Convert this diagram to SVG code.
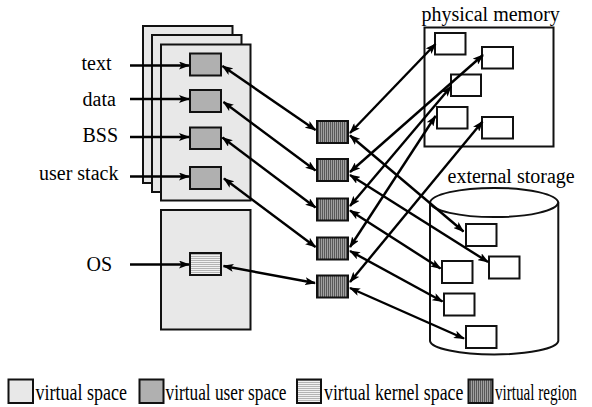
<svg xmlns="http://www.w3.org/2000/svg" width="592" height="407" viewBox="0 0 592 407">
  <style>
    .lbl { font-family: "Liberation Serif", "Times New Roman", serif; font-size: 20px; fill: #000; }
    .leg { font-family: "Liberation Serif", "Times New Roman", serif; font-size: 23.5px; fill: #000; }
    .page { fill: #e8e8e8; stroke: #111; stroke-width: 2; }
    .user { fill: #b0b0b0; stroke: #111; stroke-width: 2; }
    .kern { fill: url(#hstripes); stroke: #111; stroke-width: 2; }
    .vreg { fill: url(#vstripes); stroke: #111; stroke-width: 2; }
    .frame { fill: #fff; stroke: #111; stroke-width: 2; }
    .cont { fill: #fff; stroke: #111; stroke-width: 2; }
    .link { fill: none; stroke: #000; stroke-width: 2.4; marker-end: url(#tip); }
    .both { marker-start: url(#tip); }
  </style>
  <defs>
    <marker id="tip" markerUnits="userSpaceOnUse" markerWidth="11" markerHeight="8" refX="10" refY="4" orient="auto-start-reverse">
      <path d="M0,0 L11,4 L0,8 L2.5,4 z" fill="#000"/>
    </marker>
    <pattern id="vstripes" patternUnits="userSpaceOnUse" width="2" height="2">
      <rect width="2" height="2" fill="#a0a0a0"/>
      <rect width="1" height="2" fill="#585858"/>
    </pattern>
    <pattern id="hstripes" patternUnits="userSpaceOnUse" width="2" height="2">
      <rect width="2" height="2" fill="#f2f2f2"/>
      <rect width="2" height="1" fill="#b4b4b4"/>
    </pattern>
  </defs>

  <!-- process address spaces (stacked pages) -->
  <g id="space-back"><rect class="page" x="143" y="26" width="89.5" height="157"/></g>
  <g id="space-middle"><rect class="page" x="152" y="35" width="89.5" height="157"/></g>
  <g id="space-front"><rect class="page" x="161" y="44.5" width="89.5" height="156"/></g>
  <g id="space-os"><rect class="page" x="161" y="210" width="89.5" height="119.5"/></g>

  <!-- user space segments -->
  <g id="seg-text"><rect class="user" x="190" y="53.5" width="31" height="22"/></g>
  <g id="seg-data"><rect class="user" x="190" y="90" width="31" height="22"/></g>
  <g id="seg-bss"><rect class="user" x="190" y="127.5" width="31" height="21.5"/></g>
  <g id="seg-stack"><rect class="user" x="190" y="167" width="31" height="22"/></g>
  <g id="seg-kernel"><rect class="kern" x="190" y="253" width="31" height="22"/></g>

  <!-- segment labels -->
  <g id="labels">
    <text class="lbl" x="81.5" y="70">text</text>
    <text class="lbl" x="82.5" y="105.5">data</text>
    <text class="lbl" x="82.5" y="141.5">BSS</text>
    <text class="lbl" x="39" y="180">user stack</text>
    <text class="lbl" x="86.5" y="270.5">OS</text>
  </g>

  <!-- virtual regions -->
  <g id="region-1"><rect class="vreg" x="317" y="121" width="31" height="22"/></g>
  <g id="region-2"><rect class="vreg" x="317" y="159" width="31" height="22"/></g>
  <g id="region-3"><rect class="vreg" x="317" y="198.5" width="31" height="22"/></g>
  <g id="region-4"><rect class="vreg" x="317" y="237.5" width="31" height="22"/></g>
  <g id="region-5"><rect class="vreg" x="317" y="275.5" width="31" height="22"/></g>

  <!-- physical memory -->
  <g id="physical-memory">
    <rect class="cont" x="424.5" y="27.5" width="129" height="119"/>
    <text class="lbl" x="421.5" y="21">physical memory</text>
  </g>
  <g id="frame-p1"><rect class="frame" x="435" y="33" width="30.5" height="21.5"/></g>
  <g id="frame-p2"><rect class="frame" x="482" y="47" width="31" height="21.5"/></g>
  <g id="frame-p3"><rect class="frame" x="451" y="74.5" width="30" height="21.5"/></g>
  <g id="frame-p4"><rect class="frame" x="437" y="107" width="30.5" height="21.5"/></g>
  <g id="frame-p5"><rect class="frame" x="482" y="117" width="31" height="21.5"/></g>

  <!-- external storage -->
  <g id="external-storage">
    <path class="cont" d="M430,202.5 A64.2,15.2 0 0 1 558.3,202.5 V341 A64.2,14 0 0 1 430,341 Z"/>
    <path fill="none" stroke="#111" stroke-width="2" d="M430,202.5 A64.2,15.2 0 0 0 558.3,202.5"/>
    <text class="lbl" x="447.5" y="183">external storage</text>
  </g>
  <g id="block-s1"><rect class="frame" x="466" y="224" width="30.5" height="22"/></g>
  <g id="block-s2"><rect class="frame" x="489" y="256.5" width="30.5" height="22"/></g>
  <g id="block-s3"><rect class="frame" x="442" y="261" width="30.5" height="22"/></g>
  <g id="block-s4"><rect class="frame" x="444" y="293.5" width="30.5" height="22"/></g>
  <g id="block-s5"><rect class="frame" x="466" y="326" width="30.5" height="22"/></g>

  <!-- connectors -->
  <g id="connectors">
    <line class="link" x1="130" y1="65.5" x2="189" y2="65.5"/>
    <line class="link" x1="130" y1="99" x2="189" y2="99"/>
    <line class="link" x1="130" y1="137" x2="189" y2="137"/>
    <line class="link" x1="130" y1="176.5" x2="189" y2="176.5"/>
    <line class="link" x1="130" y1="264.5" x2="189" y2="264.5"/>

    <line class="link both" x1="222.5" y1="66" x2="315.5" y2="130"/>
    <line class="link both" x1="223.5" y1="102" x2="315.5" y2="170.5"/>
    <line class="link both" x1="222.5" y1="137.5" x2="315.5" y2="207.5"/>
    <line class="link both" x1="224" y1="178.5" x2="315.5" y2="247"/>
    <line class="link both" x1="223.5" y1="266" x2="315" y2="283"/>

    <line class="link both" x1="350" y1="133" x2="435.5" y2="44"/>
    <line class="link both" x1="350" y1="135.5" x2="463.5" y2="231.5"/>
    <line class="link both" x1="350" y1="172" x2="483" y2="55"/>
    <line class="link both" x1="350" y1="175" x2="488" y2="262"/>
    <line class="link both" x1="350" y1="206" x2="451" y2="86.5"/>
    <line class="link both" x1="350" y1="210.5" x2="440.5" y2="268.5"/>
    <line class="link both" x1="350" y1="247" x2="435.5" y2="116"/>
    <line class="link both" x1="350" y1="251" x2="442.5" y2="301.5"/>
    <line class="link both" x1="350" y1="282" x2="482.5" y2="121.5"/>
    <line class="link both" x1="350" y1="288" x2="464" y2="338.5"/>
  </g>

  <!-- legend: narrow, tall lettering -->
  <g id="legend">
    <rect class="page" x="8.5" y="379.5" width="24.5" height="23.5"/>
    <text class="leg" transform="translate(35.5,399.5) scale(0.766,1)">virtual space</text>
    <rect class="user" x="139.5" y="379.5" width="24" height="23.5"/>
    <text class="leg" transform="translate(165.5,399.5) scale(0.736,1)">virtual user space</text>
    <rect class="kern" x="297" y="379.5" width="24" height="23.5"/>
    <text class="leg" transform="translate(324,399.5) scale(0.758,1)">virtual kernel space</text>
    <rect class="vreg" x="468.5" y="379.5" width="24" height="23.5"/>
    <text class="leg" transform="translate(495,399.5) scale(0.644,1)">virtual region</text>
  </g>
</svg>
